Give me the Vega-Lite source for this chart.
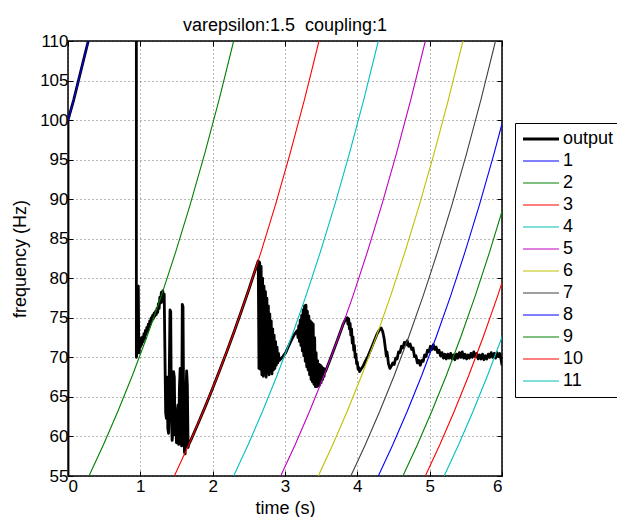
{
"$schema": "https://vega.github.io/schema/vega-lite/v6.json",
"width": 434, "height": 435,
"autosize": "none",
"padding": {"left": 68, "top": 41, "right": 115, "bottom": 41},
"background": "white",
"title": {"text": "varepsilon:1.5\u00a0 coupling:1", "font": "Liberation Sans", "fontSize": 18, "fontWeight": "normal", "color": "black", "anchor": "middle", "offset": -3},
"config": {
  "view": {"stroke": "black", "strokeWidth": 1.5},
  "axis": {"labelFont": "Liberation Sans", "labelFontSize": 17, "labelColor": "black", "titleFont": "Liberation Sans", "titleFontSize": 18, "titleFontWeight": "normal", "titleColor": "black", "tickColor": "black", "tickSize": -5, "tickWidth": 1, "domain": false, "gridColor": "#000", "gridOpacity": 0.55, "gridDash": [1, 3], "gridWidth": 1},
  "legend": {"labelFont": "Liberation Sans", "labelFontSize": 18, "labelColor": "black"}
},
"datasets": {
  "curves": [
    {"s":"1","t":-0.32,"f":89.35},{"s":"1","t":-0.12,"f":95.76},{"s":"1","t":0.08,"f":102.63},{"s":"1","t":0.28,"f":110},
    {"s":"2","t":0.29,"f":55},{"s":"2","t":0.49,"f":58.95},{"s":"2","t":0.69,"f":63.18},{"s":"2","t":0.89,"f":67.71},{"s":"2","t":1.09,"f":72.57},{"s":"2","t":1.29,"f":77.78},{"s":"2","t":1.49,"f":83.36},{"s":"2","t":1.69,"f":89.35},{"s":"2","t":1.89,"f":95.76},{"s":"2","t":2.09,"f":102.63},{"s":"2","t":2.29,"f":110},
    {"s":"3","t":1.47,"f":55},{"s":"3","t":1.67,"f":58.95},{"s":"3","t":1.87,"f":63.18},{"s":"3","t":2.07,"f":67.71},{"s":"3","t":2.27,"f":72.57},{"s":"3","t":2.47,"f":77.78},{"s":"3","t":2.67,"f":83.36},{"s":"3","t":2.87,"f":89.35},{"s":"3","t":3.07,"f":95.76},{"s":"3","t":3.27,"f":102.63},{"s":"3","t":3.47,"f":110},
    {"s":"4","t":2.29,"f":55},{"s":"4","t":2.49,"f":58.95},{"s":"4","t":2.69,"f":63.18},{"s":"4","t":2.89,"f":67.71},{"s":"4","t":3.09,"f":72.57},{"s":"4","t":3.29,"f":77.78},{"s":"4","t":3.49,"f":83.36},{"s":"4","t":3.69,"f":89.35},{"s":"4","t":3.89,"f":95.76},{"s":"4","t":4.09,"f":102.63},{"s":"4","t":4.29,"f":110},
    {"s":"5","t":2.94,"f":55},{"s":"5","t":3.14,"f":58.95},{"s":"5","t":3.34,"f":63.18},{"s":"5","t":3.54,"f":67.71},{"s":"5","t":3.74,"f":72.57},{"s":"5","t":3.94,"f":77.78},{"s":"5","t":4.14,"f":83.36},{"s":"5","t":4.34,"f":89.35},{"s":"5","t":4.54,"f":95.76},{"s":"5","t":4.74,"f":102.63},{"s":"5","t":4.94,"f":110},
    {"s":"6","t":3.46,"f":55},{"s":"6","t":3.66,"f":58.95},{"s":"6","t":3.86,"f":63.18},{"s":"6","t":4.06,"f":67.71},{"s":"6","t":4.26,"f":72.57},{"s":"6","t":4.46,"f":77.78},{"s":"6","t":4.66,"f":83.36},{"s":"6","t":4.86,"f":89.35},{"s":"6","t":5.06,"f":95.76},{"s":"6","t":5.26,"f":102.63},{"s":"6","t":5.46,"f":110},
    {"s":"7","t":3.91,"f":55},{"s":"7","t":4.11,"f":58.95},{"s":"7","t":4.31,"f":63.18},{"s":"7","t":4.51,"f":67.71},{"s":"7","t":4.71,"f":72.57},{"s":"7","t":4.91,"f":77.78},{"s":"7","t":5.11,"f":83.36},{"s":"7","t":5.31,"f":89.35},{"s":"7","t":5.51,"f":95.76},{"s":"7","t":5.71,"f":102.63},{"s":"7","t":5.91,"f":110},
    {"s":"8","t":4.29,"f":55},{"s":"8","t":4.49,"f":58.95},{"s":"8","t":4.69,"f":63.18},{"s":"8","t":4.89,"f":67.71},{"s":"8","t":5.09,"f":72.57},{"s":"8","t":5.29,"f":77.78},{"s":"8","t":5.49,"f":83.36},{"s":"8","t":5.69,"f":89.35},{"s":"8","t":5.89,"f":95.76},{"s":"8","t":6.09,"f":102.63},
    {"s":"9","t":4.63,"f":55},{"s":"9","t":4.83,"f":58.95},{"s":"9","t":5.03,"f":63.18},{"s":"9","t":5.23,"f":67.71},{"s":"9","t":5.43,"f":72.57},{"s":"9","t":5.63,"f":77.78},{"s":"9","t":5.83,"f":83.36},{"s":"9","t":6.03,"f":89.35},
    {"s":"10","t":4.94,"f":55},{"s":"10","t":5.14,"f":58.95},{"s":"10","t":5.34,"f":63.18},{"s":"10","t":5.54,"f":67.71},{"s":"10","t":5.74,"f":72.57},{"s":"10","t":5.94,"f":77.78},{"s":"10","t":6.14,"f":83.36},
    {"s":"11","t":5.2,"f":55},{"s":"11","t":5.4,"f":58.95},{"s":"11","t":5.6,"f":63.18},{"s":"11","t":5.8,"f":67.71},{"s":"11","t":6.0,"f":72.57},{"s":"11","t":6.2,"f":77.78}
  ],
  "output": [
    {"s":"output","t":0,"f":55},{"s":"output","t":0,"f":100},{"s":"output","t":0.08,"f":102.6},{"s":"output","t":0.28,"f":110},{"s":"output","t":0.48,"f":118},{"s":"output","t":0.93,"f":140},{"s":"output","t":0.945,"f":140},{"s":"output","t":0.945,"f":70},
    {"s":"output","t":0.95,"f":70.3},{"s":"output","t":0.96,"f":71.0},{"s":"output","t":0.965,"f":78.8},{"s":"output","t":0.972,"f":79.0},{"s":"output","t":0.978,"f":71.2},{"s":"output","t":0.985,"f":70.6},{"s":"output","t":0.99,"f":72.5},{"s":"output","t":1.0,"f":71.3},{"s":"output","t":1.01,"f":72.3},{"s":"output","t":1.02,"f":71.6},{"s":"output","t":1.03,"f":72.6},{"s":"output","t":1.04,"f":72.0},{"s":"output","t":1.05,"f":73.0},{"s":"output","t":1.06,"f":72.4},{"s":"output","t":1.07,"f":73.4},{"s":"output","t":1.08,"f":72.9},{"s":"output","t":1.09,"f":73.8},{"s":"output","t":1.10,"f":73.3},{"s":"output","t":1.11,"f":74.2},{"s":"output","t":1.12,"f":73.8},{"s":"output","t":1.13,"f":74.6},{"s":"output","t":1.14,"f":74.2},{"s":"output","t":1.15,"f":75.0},{"s":"output","t":1.16,"f":74.6},{"s":"output","t":1.17,"f":75.3},{"s":"output","t":1.18,"f":74.9},{"s":"output","t":1.19,"f":75.6},{"s":"output","t":1.20,"f":75.2},{"s":"output","t":1.21,"f":75.8},{"s":"output","t":1.22,"f":75.4},{"s":"output","t":1.23,"f":76.2},{"s":"output","t":1.24,"f":75.7},{"s":"output","t":1.25,"f":76.8},{"s":"output","t":1.26,"f":76.2},{"s":"output","t":1.27,"f":77.6},{"s":"output","t":1.28,"f":76.9},{"s":"output","t":1.29,"f":78.2},{"s":"output","t":1.30,"f":77.0},{"s":"output","t":1.31,"f":78.4},{"s":"output","t":1.32,"f":77.5},{"s":"output","t":1.33,"f":78.0},{"s":"output","t":1.34,"f":70.5},{"s":"output","t":1.35,"f":63.0},{"s":"output","t":1.36,"f":62.3},{"s":"output","t":1.37,"f":67.5},{"s":"output","t":1.38,"f":61.0},{"s":"output","t":1.39,"f":60.4},{"s":"output","t":1.40,"f":68.0},{"s":"output","t":1.41,"f":76.0},{"s":"output","t":1.42,"f":75.8},{"s":"output","t":1.43,"f":62.0},{"s":"output","t":1.44,"f":59.5},{"s":"output","t":1.45,"f":60.5},{"s":"output","t":1.46,"f":68.2},{"s":"output","t":1.47,"f":67.5},{"s":"output","t":1.48,"f":60.2},{"s":"output","t":1.49,"f":61.5},{"s":"output","t":1.50,"f":59.2},{"s":"output","t":1.51,"f":63.0},{"s":"output","t":1.52,"f":64.0},{"s":"output","t":1.53,"f":59.0},{"s":"output","t":1.54,"f":66.0},{"s":"output","t":1.55,"f":68.6},{"s":"output","t":1.56,"f":60.5},{"s":"output","t":1.57,"f":58.8},{"s":"output","t":1.58,"f":76.7},{"s":"output","t":1.59,"f":76.4},{"s":"output","t":1.60,"f":62.0},{"s":"output","t":1.61,"f":58.0},{"s":"output","t":1.62,"f":57.8},{"s":"output","t":1.63,"f":65.0},{"s":"output","t":1.64,"f":68.3},{"s":"output","t":1.65,"f":66.5},{"s":"output","t":1.66,"f":58.6},{"s":"output","t":1.67,"f":59.0},
    {"s":"output","t":1.70,"f":59.57},{"s":"output","t":1.80,"f":61.67},{"s":"output","t":1.90,"f":63.84},{"s":"output","t":2.00,"f":66.09},{"s":"output","t":2.10,"f":68.42},{"s":"output","t":2.20,"f":70.83},{"s":"output","t":2.30,"f":73.33},{"s":"output","t":2.40,"f":75.92},{"s":"output","t":2.50,"f":78.59},{"s":"output","t":2.60,"f":81.37},{"s":"output","t":2.63,"f":82.2},
    {"s":"output","t":2.64,"f":68.6},{"s":"output","t":2.65,"f":82.0},{"s":"output","t":2.66,"f":68.5},{"s":"output","t":2.67,"f":81.5},{"s":"output","t":2.68,"f":67.8},{"s":"output","t":2.69,"f":80.0},{"s":"output","t":2.70,"f":67.6},{"s":"output","t":2.71,"f":79.0},{"s":"output","t":2.72,"f":68.0},{"s":"output","t":2.73,"f":78.3},{"s":"output","t":2.74,"f":67.5},{"s":"output","t":2.75,"f":77.5},{"s":"output","t":2.76,"f":68.2},{"s":"output","t":2.77,"f":76.5},{"s":"output","t":2.78,"f":67.8},{"s":"output","t":2.79,"f":75.5},{"s":"output","t":2.80,"f":68.3},{"s":"output","t":2.81,"f":74.6},{"s":"output","t":2.82,"f":67.9},{"s":"output","t":2.83,"f":73.6},{"s":"output","t":2.84,"f":68.4},{"s":"output","t":2.85,"f":72.8},{"s":"output","t":2.86,"f":68.6},{"s":"output","t":2.87,"f":72.0},{"s":"output","t":2.88,"f":69.0},{"s":"output","t":2.89,"f":71.3},{"s":"output","t":2.90,"f":69.3},{"s":"output","t":2.91,"f":70.5},{"s":"output","t":2.92,"f":69.6},
    {"s":"output","t":2.94,"f":69.8},{"s":"output","t":2.97,"f":70.1},{"s":"output","t":3.01,"f":70.6},{"s":"output","t":3.05,"f":71.4},{"s":"output","t":3.09,"f":72.2},{"s":"output","t":3.13,"f":72.9},{"s":"output","t":3.17,"f":73.4},
    {"s":"output","t":3.18,"f":72.5},{"s":"output","t":3.19,"f":74.0},{"s":"output","t":3.20,"f":72.0},{"s":"output","t":3.21,"f":74.7},{"s":"output","t":3.22,"f":71.5},{"s":"output","t":3.23,"f":75.3},{"s":"output","t":3.24,"f":70.8},{"s":"output","t":3.25,"f":76.0},{"s":"output","t":3.26,"f":70.2},{"s":"output","t":3.27,"f":76.5},{"s":"output","t":3.28,"f":69.5},{"s":"output","t":3.29,"f":76.6},{"s":"output","t":3.30,"f":68.8},{"s":"output","t":3.31,"f":75.8},{"s":"output","t":3.32,"f":68.4},{"s":"output","t":3.33,"f":75.2},{"s":"output","t":3.34,"f":67.8},{"s":"output","t":3.35,"f":74.6},{"s":"output","t":3.36,"f":67.2},{"s":"output","t":3.37,"f":74.4},{"s":"output","t":3.38,"f":66.9},{"s":"output","t":3.39,"f":74.2},{"s":"output","t":3.40,"f":66.6},{"s":"output","t":3.41,"f":72.5},{"s":"output","t":3.42,"f":66.3},{"s":"output","t":3.43,"f":70.6},{"s":"output","t":3.44,"f":66.3},{"s":"output","t":3.45,"f":69.6},{"s":"output","t":3.46,"f":66.4},{"s":"output","t":3.47,"f":69.1},{"s":"output","t":3.48,"f":66.5},{"s":"output","t":3.49,"f":69.0},{"s":"output","t":3.50,"f":66.8},{"s":"output","t":3.51,"f":68.8},{"s":"output","t":3.52,"f":67.2},{"s":"output","t":3.53,"f":68.6},{"s":"output","t":3.54,"f":67.6},{"s":"output","t":3.55,"f":68.5},{"s":"output","t":3.56,"f":68.2},
    {"s":"output","t":3.62,"f":69.62},{"s":"output","t":3.68,"f":71.08},{"s":"output","t":3.74,"f":72.57},{"s":"output","t":3.80,"f":74.1},{"s":"output","t":3.84,"f":74.9},
    {"s":"output","t":3.86,"f":75.0},{"s":"output","t":3.87,"f":74.2},{"s":"output","t":3.88,"f":74.9},{"s":"output","t":3.89,"f":73.6},{"s":"output","t":3.90,"f":74.3},{"s":"output","t":3.91,"f":72.8},{"s":"output","t":3.92,"f":73.6},{"s":"output","t":3.93,"f":71.8},{"s":"output","t":3.94,"f":72.6},{"s":"output","t":3.95,"f":70.9},{"s":"output","t":3.96,"f":71.5},{"s":"output","t":3.97,"f":70.0},{"s":"output","t":3.98,"f":70.4},{"s":"output","t":3.99,"f":69.2},{"s":"output","t":4.00,"f":69.4},{"s":"output","t":4.01,"f":68.5},{"s":"output","t":4.02,"f":68.7},{"s":"output","t":4.03,"f":68.2},
    {"s":"output","t":4.05,"f":68.5},{"s":"output","t":4.08,"f":68.9},{"s":"output","t":4.11,"f":69.5},{"s":"output","t":4.15,"f":70.2},{"s":"output","t":4.19,"f":71.1},{"s":"output","t":4.23,"f":72.0},{"s":"output","t":4.27,"f":72.9},{"s":"output","t":4.30,"f":73.4},{"s":"output","t":4.33,"f":73.7},{"s":"output","t":4.35,"f":73.3},{"s":"output","t":4.37,"f":72.4},{"s":"output","t":4.39,"f":71.0},{"s":"output","t":4.40,"f":70.2},{"s":"output","t":4.41,"f":70.7},{"s":"output","t":4.42,"f":70.0},{"s":"output","t":4.43,"f":69.2},{"s":"output","t":4.45,"f":68.6},{"s":"output","t":4.47,"f":68.9},
    {"s":"output","t":4.49,"f":69.3},{"s":"output","t":4.51,"f":69.1},{"s":"output","t":4.53,"f":69.9},{"s":"output","t":4.55,"f":69.8},{"s":"output","t":4.57,"f":70.7},{"s":"output","t":4.59,"f":70.6},{"s":"output","t":4.61,"f":71.4},{"s":"output","t":4.63,"f":71.2},{"s":"output","t":4.65,"f":71.9},{"s":"output","t":4.67,"f":71.6},{"s":"output","t":4.69,"f":72.1},{"s":"output","t":4.71,"f":71.4},{"s":"output","t":4.73,"f":71.7},{"s":"output","t":4.75,"f":71.0},{"s":"output","t":4.77,"f":71.2},{"s":"output","t":4.79,"f":70.1},{"s":"output","t":4.81,"f":70.2},{"s":"output","t":4.83,"f":69.3},{"s":"output","t":4.85,"f":69.6},{"s":"output","t":4.87,"f":69.0},{"s":"output","t":4.89,"f":69.6},{"s":"output","t":4.91,"f":69.5},{"s":"output","t":4.93,"f":70.3},{"s":"output","t":4.95,"f":70.1},{"s":"output","t":4.97,"f":70.9},{"s":"output","t":4.99,"f":70.7},{"s":"output","t":5.01,"f":71.4},{"s":"output","t":5.03,"f":71.0},{"s":"output","t":5.05,"f":71.6},{"s":"output","t":5.07,"f":71.0},{"s":"output","t":5.09,"f":71.3},{"s":"output","t":5.11,"f":70.6},{"s":"output","t":5.13,"f":70.9},{"s":"output","t":5.15,"f":70.2},{"s":"output","t":5.17,"f":70.6},{"s":"output","t":5.19,"f":69.9},{"s":"output","t":5.21,"f":70.4},{"s":"output","t":5.23,"f":69.8},{"s":"output","t":5.25,"f":70.4},{"s":"output","t":5.27,"f":69.9},{"s":"output","t":5.29,"f":70.5},{"s":"output","t":5.31,"f":69.8},{"s":"output","t":5.33,"f":70.3},{"s":"output","t":5.35,"f":69.7},{"s":"output","t":5.37,"f":70.4},{"s":"output","t":5.39,"f":69.9},{"s":"output","t":5.41,"f":70.6},{"s":"output","t":5.43,"f":70.0},{"s":"output","t":5.45,"f":70.7},{"s":"output","t":5.47,"f":69.9},{"s":"output","t":5.49,"f":70.4},{"s":"output","t":5.51,"f":69.8},{"s":"output","t":5.53,"f":70.3},{"s":"output","t":5.55,"f":69.9},{"s":"output","t":5.57,"f":70.5},{"s":"output","t":5.59,"f":70.0},{"s":"output","t":5.61,"f":70.7},{"s":"output","t":5.63,"f":70.1},{"s":"output","t":5.65,"f":70.5},{"s":"output","t":5.67,"f":69.8},{"s":"output","t":5.69,"f":70.3},{"s":"output","t":5.71,"f":69.8},{"s":"output","t":5.73,"f":70.4},{"s":"output","t":5.75,"f":69.7},{"s":"output","t":5.77,"f":70.2},{"s":"output","t":5.79,"f":69.8},{"s":"output","t":5.81,"f":70.4},{"s":"output","t":5.83,"f":70.0},{"s":"output","t":5.85,"f":70.6},{"s":"output","t":5.87,"f":70.0},{"s":"output","t":5.89,"f":70.5},{"s":"output","t":5.91,"f":69.9},{"s":"output","t":5.93,"f":70.6},{"s":"output","t":5.95,"f":70.1},{"s":"output","t":5.97,"f":70.5},{"s":"output","t":5.99,"f":69.6},{"s":"output","t":6.0,"f":69.0}
  ]
},
"layer": [
  {
    "data": {"name": "output"},
    "mark": {"type": "line", "clip": true, "strokeWidth": 2.8, "strokeJoin": "round"},
    "encoding": {
      "x": {"field": "t", "type": "quantitative", "scale": {"domain": [0, 6], "nice": false, "zero": false}, "axis": {"values": [0,1,2,3,4,5,6], "format": "d", "title": "time (s)", "grid": true, "labelPadding": 7, "titlePadding": 5}},
      "y": {"field": "f", "type": "quantitative", "scale": {"domain": [55, 110], "nice": false, "zero": false}, "axis": {"values": [55,60,65,70,75,80,85,90,95,100,105,110], "format": "d", "title": "frequency (Hz)", "grid": true, "labelPadding": 5, "titlePadding": 10}},
      "color": {"field": "s", "type": "nominal", "scale": {"domain": ["output","1","2","3","4","5","6","7","8","9","10","11"], "range": ["#000000","#0000FF","#008000","#FF0000","#00BFBF","#BF00BF","#BFBF00","#404040","#0000FF","#008000","#FF0000","#00BFBF"]},
        "legend": {"title": null, "orient": "none", "legendX": 447, "legendY": 82, "symbolType": "stroke", "symbolSize": 1296, "symbolStrokeWidth": 1.2, "symbolOffset": 10, "labelOffset": 13, "padding": 7, "rowPadding": 4, "strokeColor": "black", "fillColor": "white",
          "encode": {"symbols": {"update": {"strokeWidth": {"signal": "datum.value === 'output' ? 3 : 1.2"}}}}}},
      "order": {"value": null}
    }
  },
  {
    "data": {"name": "curves"},
    "mark": {"type": "line", "clip": true, "strokeWidth": 1.1},
    "encoding": {
      "x": {"field": "t", "type": "quantitative", "axis": {"orient": "top", "values": [0,1,2,3,4,5,6], "labels": false, "grid": false, "title": null}},
      "y": {"field": "f", "type": "quantitative", "axis": {"orient": "right", "values": [55,60,65,70,75,80,85,90,95,100,105,110], "labels": false, "grid": false, "title": null}},
      "color": {"field": "s", "type": "nominal"},
      "detail": {"field": "s"}
    }
  }
],
"resolve": {"axis": {"x": "independent", "y": "independent"}}
}
